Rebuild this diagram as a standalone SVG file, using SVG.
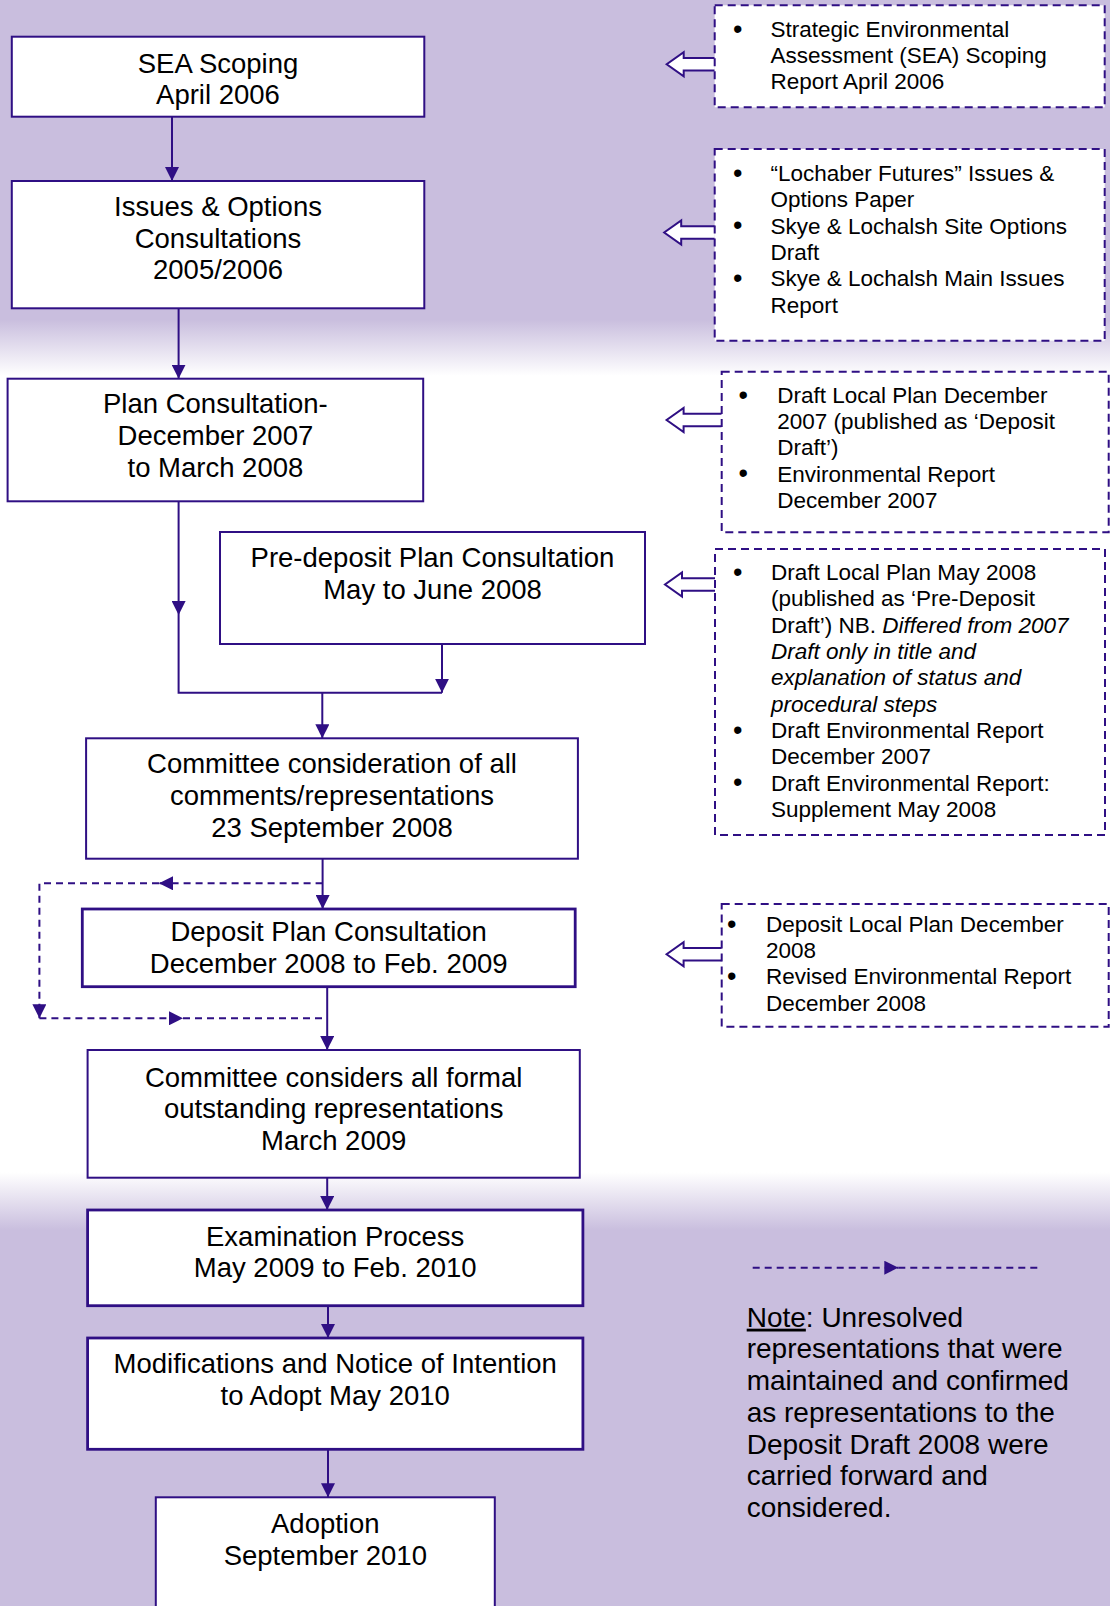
<svg xmlns="http://www.w3.org/2000/svg" width="1110" height="1606" viewBox="0 0 1110 1606">
<defs>
<linearGradient id="bg" x1="0" y1="0" x2="0" y2="1606" gradientUnits="userSpaceOnUse">
<stop offset="0" stop-color="#C9BEDE"/>
<stop offset="0.199" stop-color="#C9BEDE"/>
<stop offset="0.234" stop-color="#FFFFFF"/>
<stop offset="0.730" stop-color="#FFFFFF"/>
<stop offset="0.766" stop-color="#C9BEDE"/>
<stop offset="1" stop-color="#C9BEDE"/>
</linearGradient>
<marker id="ah" viewBox="0 0 14 14" refX="14" refY="7" markerWidth="14" markerHeight="14" markerUnits="userSpaceOnUse" orient="auto">
<path d="M0,0 L14,7 L0,14 Z" fill="#2F0F84" stroke="none"/>
</marker>
</defs>
<style>
.box{fill:#FFFFFF;stroke:#2F0F84;stroke-width:2}
.thick{stroke-width:2.8}
.side{fill:#FFFFFF;stroke:#2F0F84;stroke-width:2;stroke-dasharray:8 5}
.nt{font-family:"Liberation Sans",Arial,sans-serif;font-size:27.5px;text-anchor:middle;fill:#000}
.st{font-family:"Liberation Sans",Arial,sans-serif;font-size:22.5px;fill:#000}
.bul{font-family:"Liberation Sans",Arial,sans-serif;font-size:27px;fill:#000;text-anchor:middle}
.conn{stroke:#2F0F84;stroke-width:2;fill:none}
.dash{stroke-dasharray:7 5}
.hollow{fill:#FFFFFF;stroke:#2F0F84;stroke-width:2}
.note{font-family:"Liberation Sans",Arial,sans-serif;font-size:28px;fill:#000}
</style>
<rect x="0" y="0" width="1110" height="1606" fill="url(#bg)"/>

<g id="connectors">
<path class="conn" d="M172,116.7 V181" marker-end="url(#ah)"/>
<path class="conn" d="M178.6,308.3 V378.7" marker-end="url(#ah)"/>
<path class="conn" d="M178.6,501.3 V615" marker-end="url(#ah)"/>
<path class="conn" d="M178.6,615 V692.7 H442"/>
<path class="conn" d="M442,644 V692.7" marker-end="url(#ah)"/>
<path class="conn" d="M322.3,692.7 V738.3" marker-end="url(#ah)"/>
<path class="conn" d="M322.6,858.7 V909" marker-end="url(#ah)"/>
<path class="conn dash" d="M322.6,883.3 H159" marker-end="url(#ah)"/>
<path class="conn dash" d="M159,883.3 H39.4 V1018.3" marker-end="url(#ah)"/>
<path class="conn dash" d="M39.4,1018.3 H183" marker-end="url(#ah)"/>
<path class="conn dash" d="M183,1018.3 H327.2"/>
<path class="conn" d="M327.2,986.7 V1050" marker-end="url(#ah)"/>
<path class="conn" d="M327.2,1177.7 V1210" marker-end="url(#ah)"/>
<path class="conn" d="M328,1305.7 V1338" marker-end="url(#ah)"/>
<path class="conn" d="M328,1449.3 V1497.3" marker-end="url(#ah)"/>
<path class="hollow" d="M714.7,58.1 H683.7 V52.3 L666.7,64.3 L683.7,76.3 V70.5 H714.7"/>
<path class="hollow" d="M714.7,226.3 H681.2 V220.5 L664.2,232.5 L681.2,244.5 V238.7 H714.7"/>
<path class="hollow" d="M721.7,413.8 H683.6 V408 L666.6,420 L683.6,432 V426.2 H721.7"/>
<path class="hollow" d="M715,578.3 H682 V572.5 L665,584.5 L682,596.5 V590.7 H715"/>
<path class="hollow" d="M721.7,948 H683.6 V942.2 L666.6,954.2 L683.6,966.2 V960.4 H721.7"/>
</g>

<g id="n-sea">
<rect class="box" x="11.8" y="36.7" width="412.5" height="80"/>
<text class="nt" x="218" y="73.3">SEA Scoping</text>
<text class="nt" x="218" y="104.3">April 2006</text>
</g>
<g id="n-issues">
<rect class="box" x="11.8" y="181" width="412.5" height="127.3"/>
<text class="nt" x="218" y="215.7">Issues &amp; Options</text>
<text class="nt" x="218" y="247.5">Consultations</text>
<text class="nt" x="218" y="279">2005/2006</text>
</g>
<g id="n-plan">
<rect class="box" x="7.6" y="378.7" width="415.6" height="122.6"/>
<text class="nt" x="215.4" y="413.3">Plan Consultation-</text>
<text class="nt" x="215.4" y="445.3">December 2007</text>
<text class="nt" x="215.4" y="477.3">to March 2008</text>
</g>
<g id="n-predeposit">
<rect class="box" x="220" y="532" width="425" height="112"/>
<text class="nt" x="432.5" y="567.3">Pre-deposit Plan Consultation</text>
<text class="nt" x="432.5" y="599.3">May to June 2008</text>
</g>
<g id="n-committee1">
<rect class="box" x="86.1" y="738.3" width="491.8" height="120.4"/>
<text class="nt" x="332" y="773.3">Committee consideration of all</text>
<text class="nt" x="332" y="805">comments/representations</text>
<text class="nt" x="332" y="836.7">23 September 2008</text>
</g>
<g id="n-deposit">
<rect class="box thick" x="82.3" y="909" width="492.9" height="77.7"/>
<text class="nt" x="328.7" y="940.7">Deposit Plan Consultation</text>
<text class="nt" x="328.7" y="972.7">December 2008 to Feb. 2009</text>
</g>
<g id="n-committee2">
<rect class="box" x="87.6" y="1050" width="492.2" height="127.7"/>
<text class="nt" x="333.7" y="1086.7">Committee considers all formal</text>
<text class="nt" x="333.7" y="1118.4">outstanding representations</text>
<text class="nt" x="333.7" y="1150">March 2009</text>
</g>
<g id="n-exam">
<rect class="box thick" x="87.6" y="1210" width="495.3" height="95.7"/>
<text class="nt" x="335.2" y="1245.7">Examination Process</text>
<text class="nt" x="335.2" y="1276.7">May 2009 to Feb. 2010</text>
</g>
<g id="n-modifications">
<rect class="box thick" x="87.6" y="1338" width="495.3" height="111.3"/>
<text class="nt" x="335.2" y="1373.3">Modifications and Notice of Intention</text>
<text class="nt" x="335.2" y="1405">to Adopt May 2010</text>
</g>
<g id="n-adoption">
<rect class="box" x="155.8" y="1497.3" width="339" height="130"/>
<text class="nt" x="325.3" y="1533.3">Adoption</text>
<text class="nt" x="325.3" y="1565">September 2010</text>
</g>

<g id="s-sea">
<rect class="side" x="714.7" y="5.3" width="390" height="102"/>
<text class="bul" x="737.8" y="37.5">•</text>
<text class="st" x="770.5" y="36.7">Strategic Environmental</text>
<text class="st" x="770.5" y="63">Assessment (SEA) Scoping</text>
<text class="st" x="770.5" y="89.3">Report April 2006</text>
</g>
<g id="s-issues">
<rect class="side" x="714.7" y="149" width="390" height="191.7"/>
<text class="bul" x="737.8" y="181.8">•</text>
<text class="st" x="770.5" y="181">“Lochaber Futures” Issues &amp;</text>
<text class="st" x="770.5" y="207.3">Options Paper</text>
<text class="bul" x="737.8" y="234.4">•</text>
<text class="st" x="770.5" y="233.6">Skye &amp; Lochalsh Site Options</text>
<text class="st" x="770.5" y="260">Draft</text>
<text class="bul" x="737.8" y="287.1">•</text>
<text class="st" x="770.5" y="286.3">Skye &amp; Lochalsh Main Issues</text>
<text class="st" x="770.5" y="312.6">Report</text>
</g>
<g id="s-plan">
<rect class="side" x="721.7" y="371.7" width="387" height="160.6"/>
<text class="bul" x="743.3" y="403.5">•</text>
<text class="st" x="777.3" y="402.7">Draft Local Plan December</text>
<text class="st" x="777.3" y="429">2007 (published as ‘Deposit</text>
<text class="st" x="777.3" y="455.3">Draft’)</text>
<text class="bul" x="743.3" y="482.4">•</text>
<text class="st" x="777.3" y="481.6">Environmental Report</text>
<text class="st" x="777.3" y="508">December 2007</text>
</g>
<g id="s-predeposit">
<rect class="side" x="715" y="549" width="390" height="286"/>
<text class="bul" x="737.7" y="580.8">•</text>
<text class="st" x="771" y="580">Draft Local Plan May 2008</text>
<text class="st" x="771" y="606.3">(published as ‘Pre-Deposit</text>
<text class="st" x="771" y="632.6">Draft’) NB. <tspan font-style="italic">Differed from 2007</tspan></text>
<text class="st" x="771" y="659" font-style="italic">Draft only in title and</text>
<text class="st" x="771" y="685.3" font-style="italic">explanation of status and</text>
<text class="st" x="771" y="711.6" font-style="italic">procedural steps</text>
<text class="bul" x="737.7" y="738.8">•</text>
<text class="st" x="771" y="738">Draft Environmental Report</text>
<text class="st" x="771" y="764.3">December 2007</text>
<text class="bul" x="737.7" y="791.4">•</text>
<text class="st" x="771" y="790.6">Draft Environmental Report:</text>
<text class="st" x="771" y="817">Supplement May 2008</text>
</g>
<g id="s-deposit">
<rect class="side" x="721.7" y="904" width="387" height="122.7"/>
<text class="bul" x="731.7" y="932.5">•</text>
<text class="st" x="766" y="931.7">Deposit Local Plan December</text>
<text class="st" x="766" y="958">2008</text>
<text class="bul" x="731.7" y="985.1">•</text>
<text class="st" x="766" y="984.3">Revised Environmental Report</text>
<text class="st" x="766" y="1010.6">December 2008</text>
</g>

<g id="legend">
<path class="conn dash" d="M752.7,1267.7 H898.3" marker-end="url(#ah)"/>
<path class="conn dash" d="M898.3,1267.7 H1040"/>
<text class="note" x="746.7" y="1326.7"><tspan text-decoration="underline">Note</tspan>: Unresolved</text>
<text class="note" x="746.7" y="1358.4">representations that were</text>
<text class="note" x="746.7" y="1390">maintained and confirmed</text>
<text class="note" x="746.7" y="1421.8">as representations to the</text>
<text class="note" x="746.7" y="1453.5">Deposit Draft 2008 were</text>
<text class="note" x="746.7" y="1485.2">carried forward and</text>
<text class="note" x="746.7" y="1516.9">considered.</text>
</g>
</svg>
